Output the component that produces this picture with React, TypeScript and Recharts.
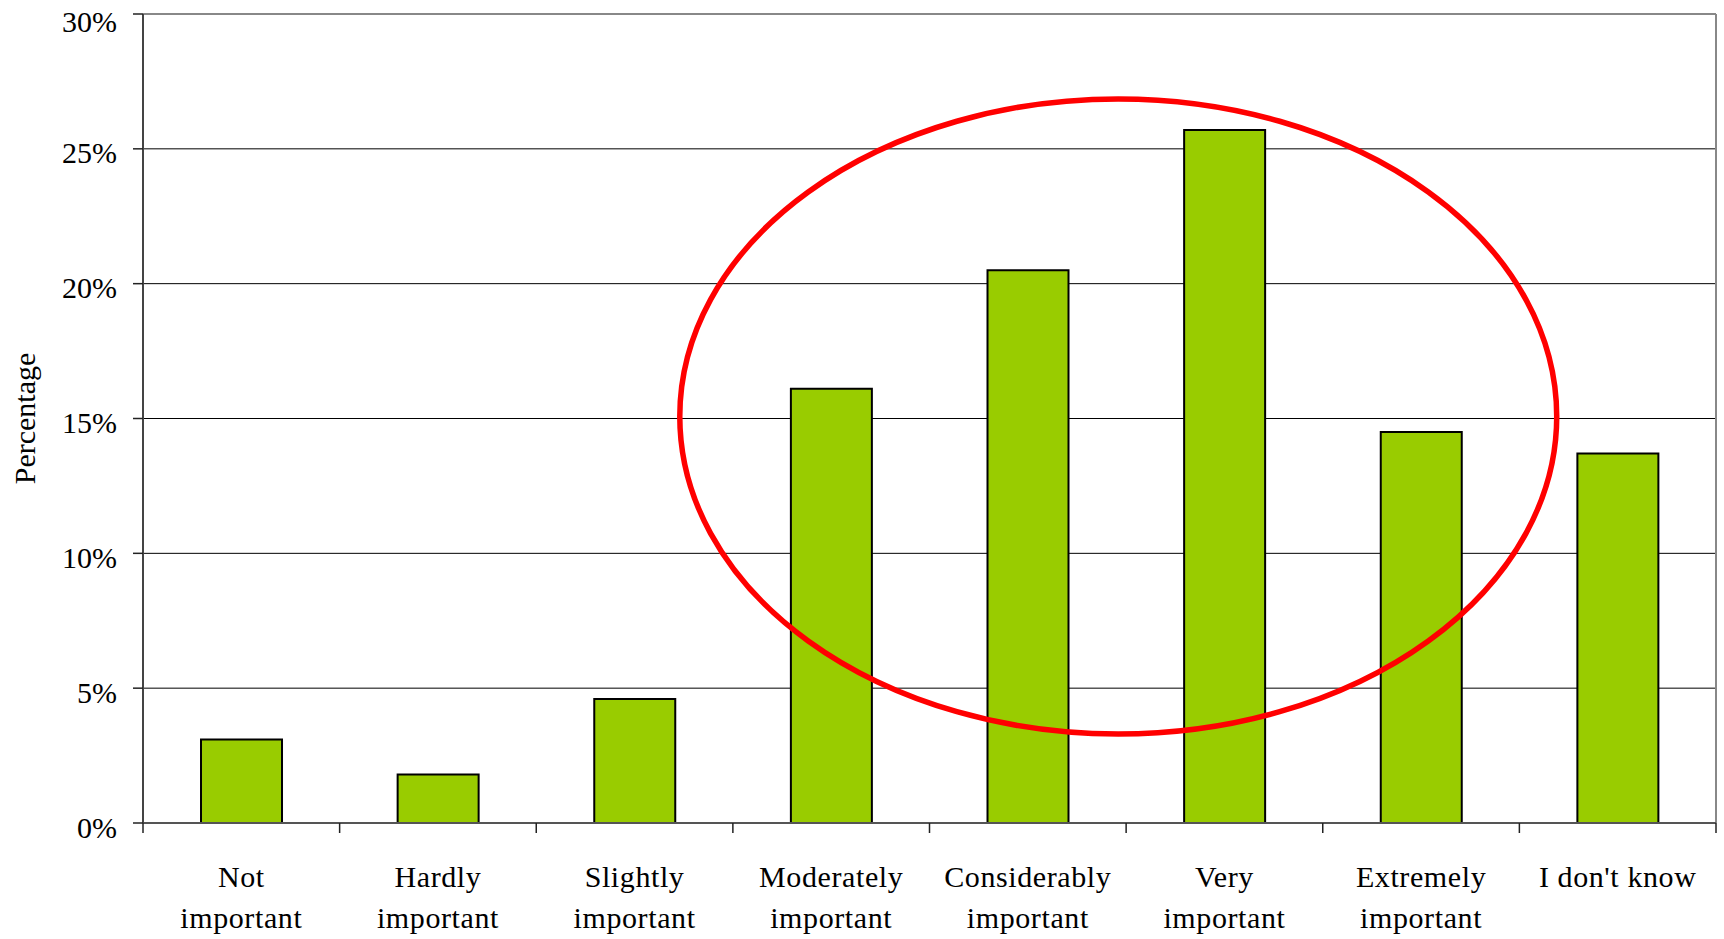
import { BarChart, Bar, XAxis, YAxis, CartesianGrid, ReferenceArea, ReferenceLine } from "recharts";

const categories = [
  "Not important",
  "Hardly important",
  "Slightly important",
  "Moderately important",
  "Considerably important",
  "Very important",
  "Extremely important",
  "I don't know",
];
const percentages = [3.1, 1.8, 4.6, 16.1, 20.5, 25.7, 14.5, 13.7];
const tickLabels = [
  ["Not", "important"],
  ["Hardly", "important"],
  ["Slightly", "important"],
  ["Moderately", "important"],
  ["Considerably", "important"],
  ["Very", "important"],
  ["Extremely", "important"],
  ["I don't know"],
];
const yTicks = [0, 5, 10, 15, 20, 25, 30];
// positions on the band axis: whole numbers are category edges, halves are centres
const bandTicks = [0, 0.5, 1, 1.5, 2, 2.5, 3, 3.5, 4, 4.5, 5, 5.5, 6, 6.5, 7, 7.5, 8];
// the red ring, in axis units
const ringX = [2.73, 7.19];
const ringY = [3.3, 26.85];

const FONT = "'Liberation Serif', 'DejaVu Serif', serif";

// each category sits in the middle of its unit slot
const data = categories.map((name, i) => ({ name, pos: i + 0.5, value: percentages[i] }));

const BandTick = (props: any) => {
  const { x, y, payload } = props;
  const v = payload.value;
  if (Number.isInteger(v)) {
    return <line x1={x} x2={x} y1={y} y2={y + 10} stroke="#222" strokeWidth={1.5} />;
  }
  const lines = tickLabels[Math.floor(v)];
  return (
    <text textAnchor="middle" fontFamily={FONT} fontSize={30} letterSpacing={0.6} fill="#000">
      {lines.map((l, i) => (
        <tspan key={i} x={x} y={y + 64 + i * 41}>
          {l}
        </tspan>
      ))}
    </text>
  );
};

const Ring = (p: any) => (
  <ellipse
    cx={p.x + p.width / 2}
    cy={p.y + p.height / 2}
    rx={p.width / 2}
    ry={p.height / 2}
    fill="none"
    stroke="#FF0000"
    strokeWidth={5.5}
  />
);

export default function App() {
  return (
    <div style={{ position: "absolute", left: 0, top: 0, background: "#fff" }}>
      <BarChart
        width={1724}
        height={939}
        data={data}
        margin={{ top: 14, right: 8, bottom: 16, left: 0 }}
        barCategoryGap="29.5%"
      >
        <CartesianGrid vertical={false} stroke="#000" strokeWidth={1} />
        <XAxis
          dataKey="pos"
          type="number"
          domain={[0, 8]}
          ticks={bandTicks}
          interval={0}
          height={100}
          tickLine={false}
          tickSize={0}
          tickMargin={0}
          tick={<BandTick />}
          axisLine={{ stroke: "#555", strokeWidth: 2 }}
          allowDataOverflow
        />
        <YAxis
          domain={[0, 30]}
          ticks={yTicks}
          width={143}
          tickSize={10}
          tickMargin={16}
          tickFormatter={(v) => `${v}%`}
          tick={{ fontSize: 30, fontFamily: FONT, fill: "#000", dy: 4 }}
          tickLine={{ stroke: "#222", strokeWidth: 1.5 }}
          axisLine={{ stroke: "#444", strokeWidth: 2 }}
          label={{
            value: "Percentage",
            angle: -90,
            position: "insideLeft",
            offset: 24,
            style: { textAnchor: "middle" },
            fontSize: 30,
            fontFamily: FONT,
            fill: "#000",
          }}
        />
        <ReferenceLine y={30} stroke="#888" strokeWidth={2} />
        <ReferenceLine x={8} stroke="#888" strokeWidth={2} />
        <Bar
          dataKey="value"
          fill="#99CC00"
          stroke="#000"
          strokeWidth={2}
          isAnimationActive={false}
        />
        <ReferenceArea
          x1={ringX[0]}
          x2={ringX[1]}
          y1={ringY[0]}
          y2={ringY[1]}
          ifOverflow="visible"
          zIndex={2000}
          shape={Ring}
        />
      </BarChart>
    </div>
  );
}
